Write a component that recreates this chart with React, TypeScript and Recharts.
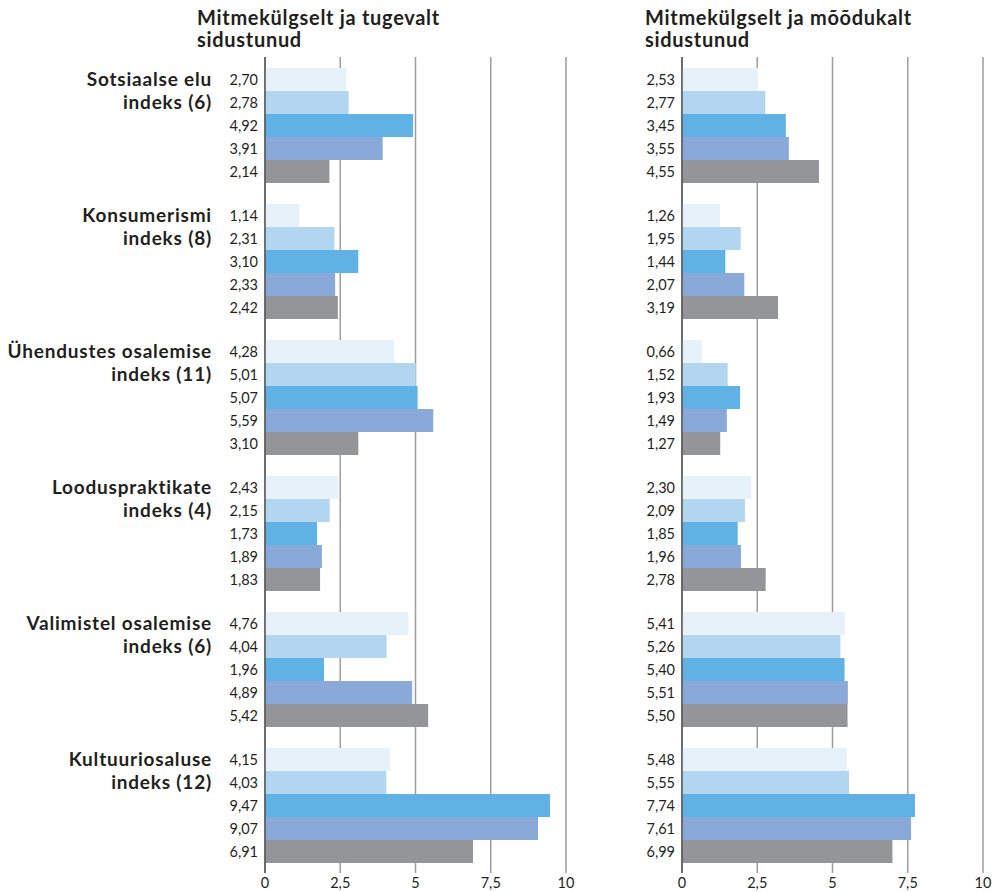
import React from "react";
import { BarChart, Bar, XAxis, YAxis, CartesianGrid, LabelList } from "recharts";

const categories = [
  ["Sotsiaalse elu", "indeks (6)"],
  ["Konsumerismi", "indeks (8)"],
  ["Ühendustes osalemise", "indeks (11)"],
  ["Loodus­praktikate".replace("\u00ad", ""), "indeks (4)"],
  ["Valimistel osalemise", "indeks (6)"],
  ["Kultuuriosaluse", "indeks (12)"],
];

const leftTitle = ["Mitmekülgselt ja tugevalt", "sidustunud"];
const rightTitle = ["Mitmekülgselt ja mõõdukalt", "sidustunud"];

const leftS1 = [2.7, 1.14, 4.28, 2.43, 4.76, 4.15];
const leftS2 = [2.78, 2.31, 5.01, 2.15, 4.04, 4.03];
const leftS3 = [4.92, 3.1, 5.07, 1.73, 1.96, 9.47];
const leftS4 = [3.91, 2.33, 5.59, 1.89, 4.89, 9.07];
const leftS5 = [2.14, 2.42, 3.1, 1.83, 5.42, 6.91];

const rightS1 = [2.53, 1.26, 0.66, 2.3, 5.41, 5.48];
const rightS2 = [2.77, 1.95, 1.52, 2.09, 5.26, 5.55];
const rightS3 = [3.45, 1.44, 1.93, 1.85, 5.4, 7.74];
const rightS4 = [3.55, 2.07, 1.49, 1.96, 5.51, 7.61];
const rightS5 = [4.55, 3.19, 1.27, 2.78, 5.5, 6.99];

const xTicks = [0, 2.5, 5, 7.5, 10];
const seriesKeys = ["s1", "s2", "s3", "s4", "s5"];
const colors = ["#E6F1FA", "#B3D6F0", "#5FB2E3", "#89A9D8", "#949599"];

const FONT = "Lato, 'Noto Sans', sans-serif";

const build = (arrs: number[][]) =>
  categories.map((c, i) => {
    const row: any = { name: c.join(" ") };
    seriesKeys.forEach((k, j) => (row[k] = arrs[j][i]));
    return row;
  });

const leftData = build([leftS1, leftS2, leftS3, leftS4, leftS5]);
const rightData = build([rightS1, rightS2, rightS3, rightS4, rightS5]);

const fmt = (v: number) => v.toFixed(2).replace(".", ",");
const fmtTick = (v: number) => String(v).replace(".", ",");

const ValueLabel = (props: any) => {
  const { x, y, height, value } = props;
  return (
    <text
      x={x - 7}
      y={y + height / 2}
      dy="0.36em"
      textAnchor="end"
      fontSize={14.5}
      fontFamily={FONT}
      fill="#231f20"
    >
      {fmt(value)}
    </text>
  );
};

const CatTick = (props: any) => {
  const { x, y } = props;
  const idx = props.index;
  const lines = categories[idx] || [];
  return (
    <g>
      {lines.map((l, i) => (
        <text
          key={i}
          x={x - 53}
          y={y - 45.5 + i * 22.7}
          dy="0.36em"
          textAnchor="end"
          fontSize={19}
          fontWeight={700}
          letterSpacing={0.8}
          fontFamily={FONT}
          fill="#231f20"
        >
          {l}
        </text>
      ))}
    </g>
  );
};

const Panel = ({ data, left, showCats }: { data: any[]; left: number; showCats: boolean }) => {
  const plotLeft = left;
  const plotWidth = 301;
  return (
    <BarChart
      width={plotLeft + plotWidth + 10}
      height={892}
      data={data}
      layout="vertical"
      margin={{ top: 57, right: 10, bottom: 0, left: 0 }}
      barCategoryGap={11}
      barGap={0}
      style={{ position: "absolute", left: 0, top: 0 }}
    >
      <CartesianGrid horizontal={false} stroke="#9d9d9d" strokeWidth={1.5} />
      <XAxis
        type="number"
        domain={[0, 10]}
        ticks={xTicks}
        tickFormatter={fmtTick}
        axisLine={false}
        tickLine={false}
        tickSize={0}
        tickMargin={5}
        height={19}
        interval={0}
        tick={{ fontSize: 14.5, fontFamily: FONT, fill: "#231f20" }}
      />
      <YAxis
        type="category"
        dataKey="name"
        width={plotLeft}
        axisLine={{ stroke: "#555", strokeWidth: 1.5 }}
        tickLine={false}
        tickSize={0}
        tickMargin={0}
        interval={0}
        tick={showCats ? <CatTick /> : false}
      />
      {seriesKeys.map((k, j) => (
        <Bar key={k} dataKey={k} fill={colors[j]} isAnimationActive={false}>
          <LabelList dataKey={k} content={<ValueLabel />} />
        </Bar>
      ))}
    </BarChart>
  );
};

const Title = ({ lines, x }: { lines: string[]; x: number }) => (
  <div
    style={{
      position: "absolute",
      left: x,
      top: 6,
      fontFamily: FONT,
      fontWeight: 700,
      fontSize: 20,
      lineHeight: "22px",
      color: "#231f20",
      letterSpacing: "0.7px",
    }}
  >
    {lines.map((l, i) => (
      <div key={i}>{l}</div>
    ))}
  </div>
);

export default function App() {
  return (
    <div
      style={{
        position: "absolute",
        left: 0,
        top: 0,
        width: 997,
        height: 892,
        background: "#fff",
        overflow: "hidden",
      }}
    >
      <div style={{ position: "absolute", left: 0, top: 0 }}>
        <Panel data={leftData} left={265} showCats={true} />
      </div>
      <div style={{ position: "absolute", left: 0, top: 0 }}>
        <Panel data={rightData} left={682} showCats={false} />
      </div>
      <Title lines={leftTitle} x={197} />
      <Title lines={rightTitle} x={645} />
    </div>
  );
}
